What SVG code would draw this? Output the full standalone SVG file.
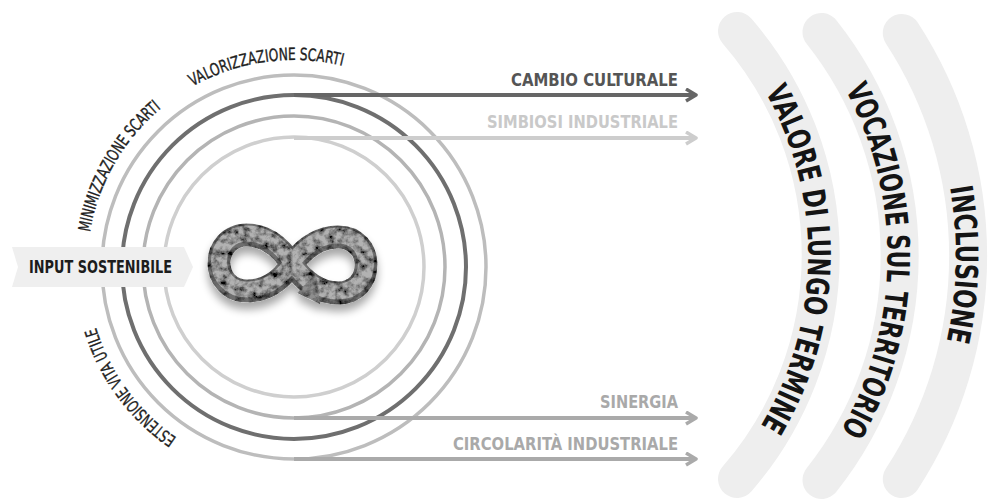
<svg xmlns="http://www.w3.org/2000/svg" width="988" height="504" viewBox="0 0 988 504">
  <style>
    .cond { font-family: "Liberation Sans Narrow", "DejaVu Sans Condensed", "Liberation Sans", sans-serif; }
    .ring { fill: none; }
    .arc-lbl { font-size: 17px; fill: #1e1e1e; stroke: #1e1e1e; stroke-width: 0.35px; }
    .flow { font-size: 18px; font-weight: bold; }
    .band { fill: none; stroke: #eeeeee; stroke-width: 38; stroke-linecap: round; }
    .band-lbl { font-size: 31px; font-weight: bold; fill: #141414; }
    .line { fill: none; stroke-width: 4; }
  </style>
  <defs>
    <marker id="ahDark" markerUnits="userSpaceOnUse" markerWidth="16" markerHeight="16" refX="11" refY="7" orient="auto">
      <path d="M1,1 L11,7 L1,13" fill="none" stroke="#666666" stroke-width="3.5" stroke-linejoin="round"/>
    </marker>
    <marker id="ahLight" markerUnits="userSpaceOnUse" markerWidth="16" markerHeight="16" refX="11" refY="7" orient="auto">
      <path d="M1,1 L11,7 L1,13" fill="none" stroke="#cdcdcd" stroke-width="3.5" stroke-linejoin="round"/>
    </marker>
    <marker id="ahMid" markerUnits="userSpaceOnUse" markerWidth="16" markerHeight="16" refX="11" refY="7" orient="auto">
      <path d="M1,1 L11,7 L1,13" fill="none" stroke="#aaaaaa" stroke-width="3.5" stroke-linejoin="round"/>
    </marker>
    <!-- clockwise circle used as baseline for the ring labels -->
    <path id="lblArc" d="M294,474 A207,207 0 1 1 294,60 A207,207 0 1 1 294,474"/>
    <!-- baselines for the three outer bands -->
    <path id="bandTxt1" d="M730.4,41.9 A331,331 0 0 1 730.4,468.1"/>
    <path id="bandTxt2" d="M814.4,42.1 A349.5,349.5 0 0 1 814.4,469.9"/>
    <path id="bandTxt3" d="M893,41.5 A397.5,397.5 0 0 1 893,470.5"/>
    <path id="infinityPath" d="M292,264 C305,247 320,237 338,237 C356,237 366,250 366,265 C366,280 356,293 338,293 C320,293 305,283 292,264 C279,245 265,235 247,235 C229,235 219,249 219,263 C219,277 229,291 247,291 C265,291 279,283 292,264 Z"/>
    <filter id="grain" x="-20%" y="-20%" width="140%" height="170%">
      <feTurbulence type="fractalNoise" baseFrequency="0.14" numOctaves="4" seed="11" result="noise"/>
      <feColorMatrix in="noise" type="matrix" values="2.2 0 0 0 -0.45  2.2 0 0 0 -0.45  2.2 0 0 0 -0.45  0 0 0 0 1" result="grey"/>
      <feComposite in="grey" in2="SourceGraphic" operator="in" result="mask"/>
      <feBlend in="mask" in2="SourceGraphic" mode="multiply" result="tex"/>
      <feGaussianBlur in="SourceAlpha" stdDeviation="4" result="b"/>
      <feOffset in="b" dy="7" result="bo"/>
      <feComponentTransfer in="bo" result="shadow">
        <feFuncA type="linear" slope="0.35"/>
      </feComponentTransfer>
      <feMerge>
        <feMergeNode in="shadow"/>
        <feMergeNode in="tex"/>
      </feMerge>
    </filter>
  </defs>

  <!-- outer value bands -->
  <g id="band-valore">
    <path class="band" d="M737,31 A341.5,341.5 0 0 1 737,479"/>
    <text class="cond band-lbl" text-anchor="middle"><textPath href="#bandTxt1" startOffset="236" textLength="350" lengthAdjust="spacingAndGlyphs">VALORE DI LUNGO TERMINE</textPath></text>
  </g>
  <g id="band-vocazione">
    <path class="band" d="M821.5,32 A360,360 0 0 1 821.5,480"/>
    <text class="cond band-lbl" text-anchor="middle"><textPath href="#bandTxt2" startOffset="235" textLength="356" lengthAdjust="spacingAndGlyphs">VOCAZIONE SUL TERRITORIO</textPath></text>
  </g>
  <g id="band-inclusione">
    <path class="band" d="M901.8,33 A408,408 0 0 1 901.8,479"/>
    <text class="cond band-lbl" text-anchor="middle"><textPath href="#bandTxt3" startOffset="235" textLength="155" lengthAdjust="spacingAndGlyphs">INCLUSIONE</textPath></text>
  </g>

  <!-- concentric cycle rings -->
  <g id="cycle">
    <circle class="ring" cx="294" cy="267" r="192" stroke="#bdbdbd" stroke-width="3.5"/>
    <circle class="ring" cx="294" cy="267" r="172" stroke="#6f6f6f" stroke-width="4"/>
    <circle class="ring" cx="294" cy="267" r="151" stroke="#b4b4b4" stroke-width="3.5"/>
    <circle class="ring" cx="294" cy="267" r="130" stroke="#cfcfcf" stroke-width="3.5"/>
    <text class="cond arc-lbl"><textPath href="#lblArc" startOffset="124.6" textLength="139" lengthAdjust="spacingAndGlyphs">ESTENSIONE VITA UTILE</textPath></text>
    <text class="cond arc-lbl"><textPath href="#lblArc" startOffset="360" textLength="146" lengthAdjust="spacingAndGlyphs">MINIMIZZAZIONE SCARTI</textPath></text>
    <text class="cond arc-lbl"><textPath href="#lblArc" startOffset="544" textLength="155" lengthAdjust="spacingAndGlyphs">VALORIZZAZIONE SCARTI</textPath></text>
  </g>

  <!-- infinity emblem -->
  <g id="infinity" filter="url(#grain)">
    <use href="#infinityPath" fill="none" stroke="#6e6e6e" stroke-width="23"/>
    <use href="#infinityPath" fill="none" stroke="#b2b2b2" stroke-width="16" transform="translate(0,-1.5)"/>
    <polygon points="297,293 316,273 320,304" fill="#8e8e8e"/>
  </g>

  <!-- input tag -->
  <g id="input">
    <path d="M12,247 L184,247 L193,267 L184,287 L12,287 L18,267 Z" fill="#efefef"/>
    <text class="cond" x="29" y="273" font-size="18" font-weight="bold" fill="#1c1c1c" textLength="143" lengthAdjust="spacingAndGlyphs">INPUT SOSTENIBILE</text>
  </g>

  <!-- outgoing flows -->
  <g id="connectors">
    <line class="line" x1="294" y1="95" x2="696" y2="95" stroke="#666666" marker-end="url(#ahDark)"/>
    <line class="line" x1="294" y1="138" x2="696" y2="138" stroke="#cdcdcd" marker-end="url(#ahLight)"/>
    <line class="line" x1="294" y1="418" x2="696" y2="418" stroke="#aaaaaa" marker-end="url(#ahMid)"/>
    <line class="line" x1="294" y1="459" x2="696" y2="459" stroke="#aaaaaa" marker-end="url(#ahMid)"/>
  </g>

  <g id="flow-labels">
    <text id="lbl-cambio" class="cond flow" x="678" y="86" text-anchor="end" fill="#555555" textLength="167" lengthAdjust="spacingAndGlyphs">CAMBIO CULTURALE</text>
    <text id="lbl-simbiosi" class="cond flow" x="678" y="128" text-anchor="end" fill="#c9c9c9" textLength="191" lengthAdjust="spacingAndGlyphs">SIMBIOSI INDUSTRIALE</text>
    <text id="lbl-sinergia" class="cond flow" x="678" y="408" text-anchor="end" fill="#a9a9a9" textLength="78" lengthAdjust="spacingAndGlyphs">SINERGIA</text>
    <text id="lbl-circolarita" class="cond flow" x="678" y="450" text-anchor="end" fill="#a9a9a9" textLength="225" lengthAdjust="spacingAndGlyphs">CIRCOLARITÀ INDUSTRIALE</text>
  </g>
</svg>
